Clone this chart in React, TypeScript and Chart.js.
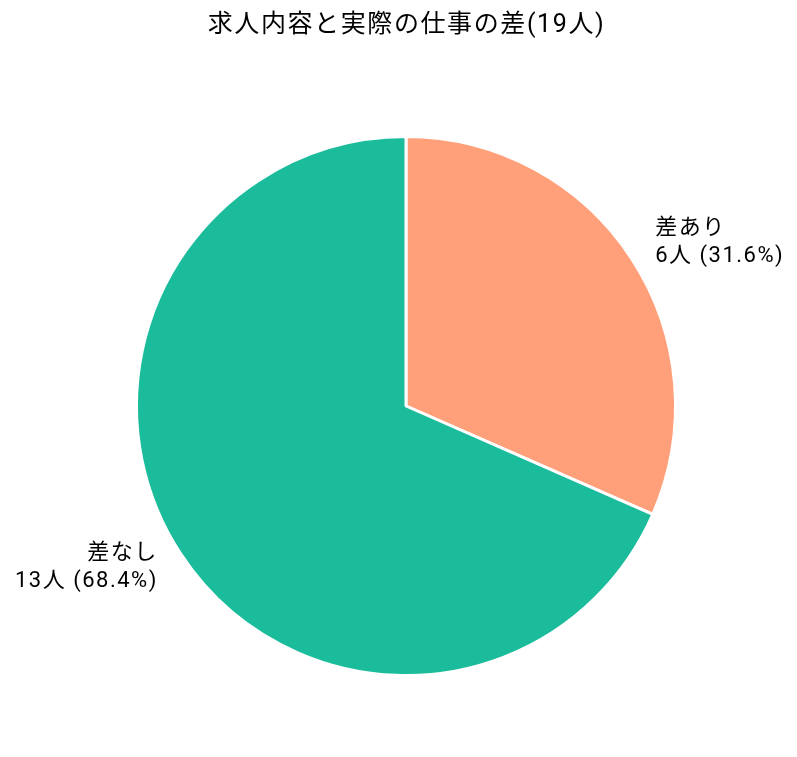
import React, { useEffect, useRef } from "react";
import { Chart, registerables } from "chart.js";

Chart.register(...registerables);

const categories = ["差あり", "差なし"];
const counts = [6, 13];
const colors = ["#FFA07A", "#1ABC9C"];
const titleText = "求人内容と実際の仕事の差(19人)";

const FONT = "Roboto, 'Noto Sans CJK JP', sans-serif";

// title drawn by hand so it can get a little letter spacing
const titleDraw = {
    id: "titleDraw",
    afterDraw(chart: any) {
        const ctx = chart.ctx;
        ctx.save();
        ctx.font = `25px ${FONT}`;
        (ctx as any).letterSpacing = "1.6px";
        ctx.fillStyle = "#000";
        ctx.textAlign = "center";
        ctx.textBaseline = "middle";
        ctx.fillText(titleText, chart.width / 2 + 8, 26);
        ctx.restore();
    },
};

// labels outside each slice, like "差あり\n6人 (31.6%)"
const outsideLabels = {
    id: "outsideLabels",
    afterDatasetsDraw(chart: any) {
        const ctx = chart.ctx;
        const meta = chart.getDatasetMeta(0);
        const total = counts.reduce((a, b) => a + b, 0);
        ctx.save();
        ctx.font = `22px ${FONT}`;
        (ctx as any).letterSpacing = "1.5px";
        ctx.fillStyle = "#000";
        ctx.textBaseline = "middle";
        meta.data.forEach((arc: any, i: number) => {
            const { x, y, outerRadius, startAngle, endAngle } = arc.getProps(
                ["x", "y", "outerRadius", "startAngle", "endAngle"],
                true
            );
            const mid = (startAngle + endAngle) / 2;
            const r = outerRadius * 1.1;
            const right = Math.cos(mid) >= 0;
            const lx = x + Math.cos(mid) * r + (right ? 1 : 0);
            const ly = y + Math.sin(mid) * r - 1;
            ctx.textAlign = right ? "left" : "right";
            const pct = ((counts[i] / total) * 100).toFixed(1);
            const lines = [categories[i], `${counts[i]}人 (${pct}%)`];
            const lh = 28;
            lines.forEach((t, k) => {
                ctx.fillText(t, lx, ly + (k - (lines.length - 1) / 2) * lh);
            });
        });
        ctx.restore();
    },
};

export default function App() {
    const chartRef = useRef<HTMLCanvasElement>(null);

    useEffect(() => {
        const chartInstance = new Chart(chartRef.current as HTMLCanvasElement, {
            type: "pie",
            data: {
                labels: categories,
                datasets: [
                    {
                        data: counts,
                        backgroundColor: colors,
                        borderColor: "#ffffff",
                        borderWidth: 3,
                    },
                ],
            },
            options: {
                animation: false,
                responsive: true,
                maintainAspectRatio: false,
                layout: {
                    padding: { left: 135, right: 120, top: 135, bottom: 80 },
                },
                plugins: {
                    legend: { display: false },
                    tooltip: { enabled: false },
                    title: { display: false },
                },
            },
            plugins: [outsideLabels, titleDraw],
        } as any);

        return () => chartInstance.destroy();
    }, []);

    return (
        <div style={{ position: "absolute", left: 0, top: 0, width: 797, height: 757, background: "#fff" }}>
            <canvas ref={chartRef}></canvas>
        </div>
    );
}
